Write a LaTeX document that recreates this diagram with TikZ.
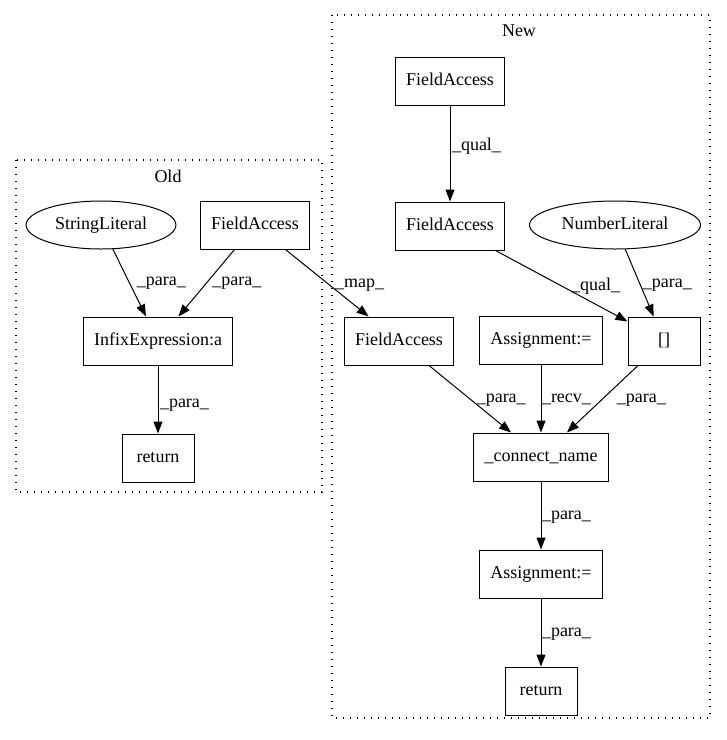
\documentclass[tikz,border=0pt]{standalone}
\usepackage{fontspec}
\setmainfont{Liberation Serif}
\usetikzlibrary{shapes.geometric, arrows.meta, positioning}
\tikzset{
  box/.style={rectangle, draw=black, line width=1pt, minimum width=72pt,
              minimum height=48pt, inner xsep=11pt, text height=12pt, text depth=4pt,
              font=\fontsize{18}{20}\selectfont},
  oval/.style={ellipse, draw=black, line width=1pt, minimum height=48pt,
               inner xsep=7pt, inner ysep=0pt, text height=12pt, text depth=4pt,
               font=\fontsize{18}{20}\selectfont},
  arrow/.style={-{Triangle[length=12pt, width=9pt]}, line width=1pt},
  elabel/.style={anchor=west, inner sep=0pt, font=\fontsize{18}{20}\selectfont},
  cluster/.style={draw=black, line width=1.3pt, dash pattern=on 1.3pt off 5.7pt},
  title/.style={inner sep=0pt, font=\fontsize{18}{20}\selectfont},
}

\begin{document}
\begin{tikzpicture}[x=1pt, y=-1pt]
  \useasboundingbox (0,0) rectangle (727,740);

  % clusters
  \draw[cluster] (16,160) rectangle (322,492);
  \draw[cluster] (332,15) rectangle (710,718);
  \node[title] (oldtitle) at (168,176) {Old};
  \node[title] (newtitle) at (519,31) {New};

  % old
  \node[oval] (strlit) at (101,225) {StringLiteral};
  \node[box]  (faold)  at (255,225) {FieldAccess};
  \node[box]  (infix)  at (158,341) {InfixExpression:a};
  \node[box, below=68pt of infix] (retold) {return};

  % new
  \node[box] (fatop) at (450,81) {FieldAccess};
  \node[box, below=96pt of fatop] (famid) {FieldAccess};
  \node[oval] (numlit) at (615,225) {NumberLiteral};
  \node[box] (fanew) at (399,341) {FieldAccess};
  \node[box] (index) at (664,341) {[]};
  \node[box] (conn)  at (541,457) {\_connect\_name};
  \node[box, above=68pt of conn] (asgtop) {Assignment:=};
  \node[box, below=68pt of conn] (asgbot) {Assignment:=};
  \node[box, below=68pt of asgbot] (retnew) {return};

  \draw[arrow] (strlit) -- node[elabel, pos=0.5, xshift=7pt] (l1) {\_para\_} (infix);
  \draw[arrow] (faold) -- node[elabel, pos=0.5, xshift=5.5pt] (l2) {\_para\_} (infix);
  \draw[arrow] (infix) -- node[elabel, pos=0.59, xshift=1.5pt] (l3) {\_para\_} (retold);
  \draw[arrow] (faold) -- node[elabel, pos=0.53, xshift=5pt] (l4) {\_map\_} (fanew);

  \draw[arrow] (fatop) -- node[elabel, pos=0.42, xshift=1.5pt] (l5) {\_qual\_} (famid);
  \draw[arrow] (famid) -- node[elabel, pos=0.5, xshift=9pt] (l6) {\_qual\_} (index);
  \draw[arrow] (numlit) -- node[elabel, pos=0.53, xshift=2pt] (l7) {\_para\_} (index);
  \draw[arrow] (fanew) -- node[elabel, pos=0.515, xshift=5pt] (l8) {\_para\_} (conn);
  \draw[arrow] (asgtop) -- node[elabel, pos=0.515, xshift=0.5pt] (l9) {\_recv\_} (conn);
  \draw[arrow] (index) -- node[elabel, pos=0.515, xshift=15pt] (l10) {\_para\_} (conn);
  \draw[arrow] (conn) -- node[elabel, pos=0.53, xshift=0.5pt] (l11) {\_para\_} (asgbot);
  \draw[arrow] (asgbot) -- node[elabel, pos=0.53, xshift=0.5pt] (l12) {\_para\_} (retnew);
\end{tikzpicture}
\end{document}
